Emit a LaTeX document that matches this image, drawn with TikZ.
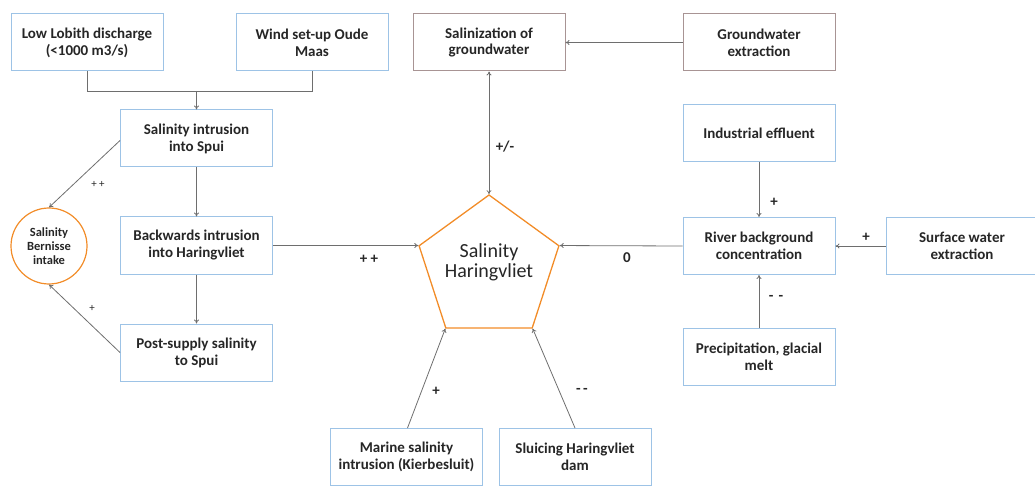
\documentclass[tikz,border=0pt]{standalone}
\usepackage{fontspec}
\setmainfont{Carlito}
\usetikzlibrary{arrows.meta,shapes.geometric}
\definecolor{boxblue}{HTML}{9DC3E6}
\definecolor{boxbrown}{HTML}{A89494}
\definecolor{linegray}{HTML}{6E6E6E}
\definecolor{accent}{HTML}{F28C28}
\definecolor{ink}{HTML}{262626}
\tikzset{
  factor/.style={draw=boxblue, line width=1pt, minimum width=152pt, minimum height=57pt,
    align=center, font=\fontsize{15}{17}\selectfont\bfseries, text=ink, inner sep=2pt},
  groundbox/.style={factor, draw=boxbrown},
  link/.style={draw=linegray, line width=0.8pt, -{To[length=4pt,width=5pt]}},
  plain/.style={draw=linegray, line width=0.8pt},
  sign/.style={font=\fontsize{15}{17}\selectfont\bfseries, text=ink},
  smallsign/.style={font=\fontsize{11}{13}\selectfont, text=ink}
}
\begin{document}
\begin{tikzpicture}[x=1pt,y=-1pt]
\useasboundingbox (0,0) rectangle (1035,486);

% left chain
\node[factor] (lobith) at (87,42.5) {Low Lobith discharge\\(<1000 m3/s)};
\node[factor] (wind) at (312,42.5) {Wind set-up Oude\\Maas};
\node[factor] (spui) at (196.5,138.5) {Salinity intrusion\\into Spui};
\node[factor] (back) at (196.5,245.5) {Backwards intrusion\\into Haringvliet};
\node[factor] (post) at (196.5,352.5) {Post-supply salinity\\to Spui};
\node[draw=accent, line width=1.2pt, circle, minimum size=76pt, inner sep=0pt, align=center,
  font=\fontsize{12.5}{14}\selectfont\bfseries, text=ink] (bernisse) at (49,246)
  {Salinity\\Bernisse\\intake};

% centre
\node[draw=accent, line width=1.3pt, regular polygon, regular polygon sides=5,
  minimum size=147pt, inner sep=0pt] (hv) at (489,268.5) {};
\node[align=center, font=\fontsize{20}{20}\selectfont, text=ink] (hvtext) at (489,262)
  {Salinity\\Haringvliet};

% top
\node[groundbox] (salgw) at (489,42.5) {Salinization of\\groundwater};
\node[groundbox] (gwext) at (759,42.5) {Groundwater\\extraction};

% right
\node[factor] (ind) at (759,133.5) {Industrial effluent};
\node[factor] (river) at (759,246) {River background\\concentration};
\node[factor] (surf) at (962,246) {Surface water\\extraction};
\node[factor] (precip) at (759,357) {Precipitation, glacial\\melt};

% bottom
\node[factor] (marine) at (406.5,457) {Marine salinity\\intrusion (Kierbesluit)};
\node[factor] (sluice) at (575,457) {Sluicing Haringvliet\\dam};

% joining the two drivers
\coordinate (join) at (spui.north |- 0,91);
\draw[plain] (lobith.south) |- (join);
\draw[plain] (wind.south) |- (join);
\draw[link] (join) -- (spui.north);

\draw[link] (spui) -- (back);
\draw[link] (back) -- (post);
\draw[link] (spui.west) ++(0,2) coordinate (s1) (s1) -- (bernisse.north);
\draw[link] (post.west) -- (bernisse.south);
\node[smallsign] (l1) at (98,184) {+ +};
\node[smallsign] (l2) at (92,308) {+};

\draw[link] (back.east) -- (hv.corner 2);
\node[sign] (l3) at (369,259) {+ +};

\draw[link] (gwext.west) -- (salgw.east);
\draw[link, {To[length=4pt,width=5pt]}-{To[length=4pt,width=5pt]}] (salgw.south) -- (hv.corner 1);
\node[sign] (l4) at (505,147) {+/-};

\draw[link] (ind) -- (river);
\node[sign] (l5) at (774,202) {+};
\draw[link] (surf) -- (river);
\node[sign] (l6) at (866,237) {+};
\draw[link] (precip) -- (river);
\node[sign] (l7) at (776,298) {-\,\,-};
\draw[link] (river.west) -- (hv.corner 5);
\node[sign] (l8) at (627,258) {0};

\draw[link] (marine.north) ++(1,0) coordinate (m1) (m1) -- (hv.corner 3);
\node[sign] (l9) at (436,391) {+};
\draw[link] (sluice.north) -- (hv.corner 4);
\node[sign] (l10) at (582,391) {-\,-};
\end{tikzpicture}
\end{document}
